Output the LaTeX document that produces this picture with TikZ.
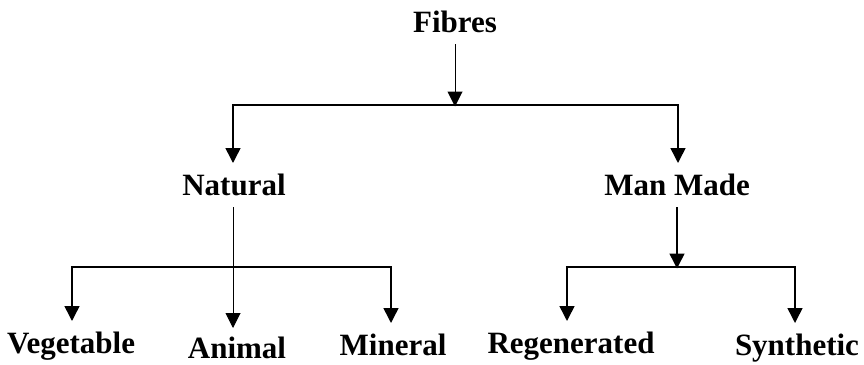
\documentclass[tikz,border=0pt]{standalone}
\usepackage{fontspec}
\setmainfont{Liberation Serif}
\usetikzlibrary{arrows.meta}
\begin{document}
\begin{tikzpicture}[x=1pt,y=-1pt,
  lbl/.style={font=\fontsize{31}{33}\selectfont\bfseries, inner sep=0pt, anchor=base, text height=20pt, text depth=0pt, outer ysep=12pt},
  arr/.style={line width=1.5pt, -{Triangle[width=15pt,length=15pt]}},
  thinarr/.style={line width=1pt, -{Triangle[width=15pt,length=15pt]}},
  barline/.style={line width=2.4pt, line cap=butt}]
\useasboundingbox (0,0) rectangle (864,364);
% nodes
\node[lbl] (fib) at (455,32) {Fibres};
\node[lbl] (nat) at (234,195) {Natural};
\node[lbl] (man) at (677,195) {Man Made};
\node[lbl] (veg) at (71,353) {Vegetable};
\node[lbl] (ani) at (237,358) {Animal};
\node[lbl] (min) at (393,355) {Mineral};
\node[lbl] (reg) at (571,353) {Regenerated};
\node[lbl] (syn) at (797,355) {Synthetic};
% junction coordinates
\coordinate (tj) at (455,105);
\coordinate (tl) at (233,105);
\coordinate (tr) at (678,105);
\coordinate (nl) at (72,267);
\coordinate (nr) at (391,267);
\coordinate (mj) at (677,267);
\coordinate (ml) at (567,267);
\coordinate (mr) at (795,267);
% top level
\draw[thinarr] (fib.south -| tj) -- ([yshift=-1.5pt]tj);
\draw[barline] ([xshift=-1.2pt]tl) -- ([xshift=1.2pt]tr);
\draw[arr] (tl) -- (tl |- nat.north);
\draw[arr] (tr) -- (tr |- man.north);
% natural branch
\draw[thinarr] (nat.south -| tl) -- ([yshift=-2pt]tl |- ani.north);
\draw[barline] ([xshift=-1.2pt]nl) -- ([xshift=1.2pt]nr);
\draw[arr] (nl) -- (nl |- veg.north);
\draw[arr] (nr) -- (nr |- min.north);
% man made branch
\draw[arr] (man.south -| mj) -- ([yshift=-1.5pt]mj);
\draw[barline] ([xshift=-1.2pt]ml) -- ([xshift=1.2pt]mr);
\draw[arr] (ml) -- (ml |- reg.north);
\draw[arr] (mr) -- (mr |- syn.north);
\end{tikzpicture}
\end{document}
